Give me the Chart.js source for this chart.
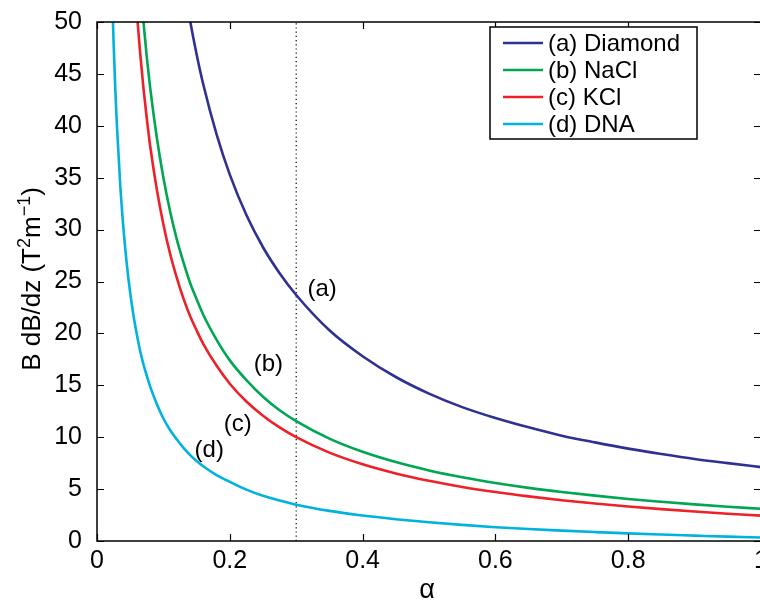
<!DOCTYPE html>
<html>
<head>
<meta charset="utf-8">
<script src="https://cdn.jsdelivr.net/npm/chart.js@4/dist/chart.umd.min.js"></script>
<style>
  html, body { margin: 0; padding: 0; background: #fff; overflow: hidden; }
  #wrap { width: 780px; height: 605px; }
</style>
</head>
<body>
<div id="wrap"><canvas id="c" width="780" height="605"></canvas></div>
<script>
// ---- data ----
const alphaValues = [0.02, 0.0225, 0.025, 0.0275, 0.03, 0.035, 0.04, 0.045, 0.05, 0.055,
  0.06, 0.065, 0.07, 0.075, 0.08, 0.09, 0.1, 0.11, 0.12, 0.13,
  0.14, 0.15, 0.16, 0.18, 0.2, 0.225, 0.25, 0.275, 0.3, 0.35,
  0.4, 0.45, 0.5, 0.55, 0.6, 0.65, 0.7, 0.75, 0.8, 0.85,
  0.9, 0.95, 1.0];

const diamondValues = [null, null, null, null, null, null, null, null, null, null,
  null, null, null, null, null, null, null, null, 58.5, 54.0,
  50.2, 46.9, 44.0, 39.2, 35.3, 31.4, 28.3, 25.8, 23.7, 20.3,
  17.8, 15.8, 14.2, 12.9, 11.85, 10.95, 10.15, 9.5, 8.9, 8.38,
  7.9, 7.5, 7.12];

const naclValues = [null, null, null, null, null, null, null, null, null, null,
  58.3, 53.8, 50.0, 46.6, 43.7, 38.9, 35.0, 31.8, 29.1, 26.9,
  24.9, 23.3, 21.8, 19.4, 17.4, 15.5, 13.9, 12.6, 11.55, 9.86,
  8.59, 7.6, 6.8, 6.14, 5.59, 5.12, 4.72, 4.37, 4.05, 3.78,
  3.53, 3.3, 3.1];

const kclValues = [null, null, null, null, null, null, null, null, null, 55.5,
  50.9, 47.0, 43.6, 40.7, 38.1, 33.9, 30.5, 27.7, 25.4, 23.4,
  21.7, 20.3, 19.0, 16.9, 15.15, 13.44, 12.07, 10.94, 10.0, 8.51,
  7.39, 6.51, 5.8, 5.21, 4.72, 4.3, 3.93, 3.61, 3.33, 3.07,
  2.84, 2.63, 2.44];

const dnaValues = [60, 53.3, 48.0, 43.6, 40.0, 34.3, 30.0, 26.6, 23.9, 21.7,
  19.9, 18.3, 17.0, 15.9, 14.9, 13.2, 11.8, 10.7, 9.8, 9.0,
  8.3, 7.7, 7.2, 6.35, 5.7, 4.95, 4.35, 3.9, 3.5, 2.9,
  2.45, 2.1, 1.8, 1.55, 1.33, 1.15, 1.0, 0.86, 0.73, 0.62,
  0.52, 0.42, 0.33];

const seriesNames = ['(a) Diamond', '(b) NaCl', '(c) KCl', '(d) DNA'];
const curveTags = ['(a)', '(b)', '(c)', '(d)'];
const tagAlpha = [0.339, 0.258, 0.212, 0.169];
const tagValue = [24.2, 17.0, 11.2, 8.7];
const markerAlpha = 0.3;
const xTicks = [0, 0.2, 0.4, 0.6, 0.8, 1];
const yTicks = [0, 5, 10, 15, 20, 25, 30, 35, 40, 45, 50];

// ---- styling ----
const FONT = '"Liberation Sans", Arial, Helvetica, sans-serif';
const colors = ['#2e3192', '#00a651', '#ee2028', '#00b2de'];
const seriesValues = [diamondValues, naclValues, kclValues, dnaValues];

const toPoints = vals => alphaValues.map((a, i) => ({ x: a, y: vals[i] }));

const datasets = seriesValues.map((vals, i) => ({
  label: seriesNames[i],
  data: toPoints(vals),
  borderColor: colors[i],
  backgroundColor: colors[i],
  borderWidth: 2.6,
  pointRadius: 0,
  fill: false,
  cubicInterpolationMode: 'monotone',
  spanGaps: false
}));
datasets.push({
  label: 'marker',
  data: [{ x: markerAlpha, y: yTicks[0] }, { x: markerAlpha, y: yTicks[yTicks.length - 1] }],
  borderColor: '#000',
  borderWidth: 1.2,
  borderDash: [1.2, 3],
  pointRadius: 0,
  fill: false
});

const decorPlugin = {
  id: 'decor',
  afterDraw(chart) {
    const ctx = chart.ctx;
    const a = chart.chartArea;
    const xs = chart.scales.x, ys = chart.scales.y;
    ctx.save();
    // box
    ctx.strokeStyle = '#000';
    ctx.lineWidth = 1.5;
    ctx.strokeRect(a.left, a.top, a.right - a.left, a.bottom - a.top);
    // inward ticks
    const tl = 7;
    ctx.lineWidth = 1.2;
    ctx.beginPath();
    xTicks.forEach(v => {
      const px = Math.round(xs.getPixelForValue(v)) + 0.5;
      ctx.moveTo(px, a.bottom); ctx.lineTo(px, a.bottom - tl);
      ctx.moveTo(px, a.top); ctx.lineTo(px, a.top + tl);
    });
    yTicks.forEach(v => {
      const py = Math.round(ys.getPixelForValue(v)) + 0.5;
      ctx.moveTo(a.left, py); ctx.lineTo(a.left + tl, py);
      ctx.moveTo(a.right, py); ctx.lineTo(a.right - tl, py);
    });
    ctx.stroke();

    // curve tags
    ctx.fillStyle = '#000';
    ctx.font = '24px ' + FONT;
    ctx.textAlign = 'center';
    ctx.textBaseline = 'middle';
    curveTags.forEach((t, i) => {
      ctx.fillText(t, xs.getPixelForValue(tagAlpha[i]), ys.getPixelForValue(tagValue[i]));
    });

    // legend
    const lx = 490, ly = 27, lw = 207, lh = 112;
    ctx.fillStyle = '#fff';
    ctx.fillRect(lx, ly, lw, lh);
    ctx.strokeStyle = '#000';
    ctx.lineWidth = 1.5;
    ctx.strokeRect(lx, ly, lw, lh);
    ctx.textAlign = 'left';
    ctx.textBaseline = 'middle';
    seriesNames.forEach((name, i) => {
      const y = ly + 16 + i * 27;
      ctx.strokeStyle = colors[i];
      ctx.lineWidth = 2.6;
      ctx.beginPath();
      ctx.moveTo(lx + 13, y); ctx.lineTo(lx + 53, y);
      ctx.stroke();
      ctx.fillStyle = '#000';
      ctx.fillText(name, lx + 58, y + 1);
    });

    // x title
    ctx.textAlign = 'center';
    ctx.textBaseline = 'alphabetic';
    ctx.font = '27px ' + FONT;
    ctx.fillText('\u03b1', (a.left + a.right) / 2 - 2, 598);

    // y title with superscripts
    const big = '26px ' + FONT, small = '18px ' + FONT;
    const parts = [
      { t: 'B dB/dz (T', f: big, up: 0 },
      { t: '2', f: small, up: 10 },
      { t: 'm', f: big, up: 0 },
      { t: '\u22121', f: small, up: 10 },
      { t: ')', f: big, up: 0 }
    ];
    let total = 0;
    parts.forEach(p => { ctx.font = p.f; p.w = ctx.measureText(p.t).width; total += p.w; });
    ctx.translate(40, 279);
    ctx.rotate(-Math.PI / 2);
    ctx.textAlign = 'left';
    let cx = -total / 2;
    parts.forEach(p => {
      ctx.font = p.f;
      ctx.fillText(p.t, cx, -p.up);
      cx += p.w;
    });
    ctx.restore();
  }
};

new Chart(document.getElementById('c'), {
  type: 'line',
  data: { datasets },
  options: {
    responsive: false,
    animation: false,
    devicePixelRatio: 1,
    layout: { padding: { top: 18, right: 19, left: 0, bottom: 0 } },
    plugins: { legend: { display: false }, tooltip: { enabled: false } },
    scales: {
      x: {
        type: 'linear',
        min: 0, max: 1,
        afterBuildTicks: s => { s.ticks = xTicks.map(v => ({ value: v })); },
        afterFit: s => { s.height = 64; },
        grid: { display: false },
        border: { display: false },
        ticks: {
          autoSkip: false, maxRotation: 0,
          color: '#000', padding: -3,
          font: { size: 25, family: FONT },
          callback: v => String(Number(v.toFixed(1)))
        }
      },
      y: {
        type: 'linear',
        min: 0, max: 50,
        afterBuildTicks: s => { s.ticks = yTicks.map(v => ({ value: v })); },
        afterFit: s => { s.width = 97; },
        grid: { display: false },
        border: { display: false },
        ticks: {
          autoSkip: false,
          color: '#000', padding: 7,
          font: { size: 25, family: FONT },
          callback: v => String(v)
        }
      }
    }
  },
  plugins: [decorPlugin]
});
</script>
</body>
</html>
